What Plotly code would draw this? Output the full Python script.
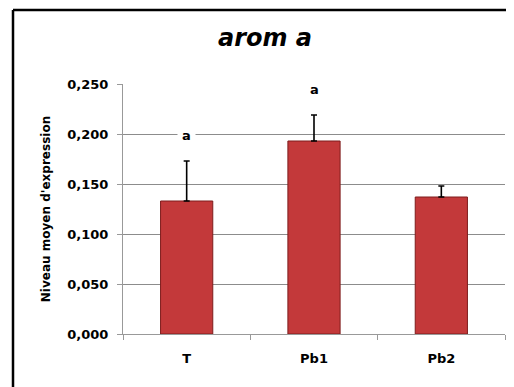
import plotly.graph_objects as go

categories = ["T", "Pb1", "Pb2"]
means = [0.133, 0.193, 0.137]
errors_plus = [0.040, 0.026, 0.011]
letters = ["a", "a", ""]
letter_y = [0.199, 0.245, None]
tick_vals = [0.0, 0.05, 0.10, 0.15, 0.20, 0.25]
tick_text = ["0,000", "0,050", "0,100", "0,150", "0,200", "0,250"]

# page body has an 8px margin; work in figure coordinates
OFF = 8
W, H = 514 - OFF, 387 - OFF
L, R, T, B = 123 - OFF, 9, 84 - OFF, 53

fig = go.Figure()
fig.add_trace(go.Bar(
    x=categories, y=means,
    marker=dict(color="#C3393A", line=dict(color="#7E1D1D", width=1)),
    width=0.41,
    error_y=dict(type="data", symmetric=False, array=errors_plus,
                 arrayminus=[0, 0, 0], color="black", thickness=1.6, width=3),
))

for c, t, yv in zip(categories, letters, letter_y):
    if t:
        fig.add_annotation(x=c, y=yv, text=t, showarrow=False,
                           font=dict(family="DejaVu Sans", size=13, color="black", weight="bold"),
                           bgcolor="white", yanchor="middle", borderpad=4)

pw = W - L - R
ph = H - T - B
bx = 13 - OFF
by = 10 - OFF
fig.add_shape(type="line", xref="paper", yref="paper",
              x0=(bx - L) / pw, x1=(W + 5 - L) / pw,
              y0=(H - B - by) / ph, y1=(H - B - by) / ph,
              line=dict(color="black", width=2.5))
fig.add_shape(type="line", xref="paper", yref="paper",
              x0=(bx - L) / pw, x1=(bx - L) / pw,
              y0=(H - B - by) / ph, y1=-(B + 5) / ph,
              line=dict(color="black", width=2.5))

fig.update_layout(
    width=W, height=H,
    margin=dict(l=L, r=R, t=T, b=B),
    paper_bgcolor="white", plot_bgcolor="white",
    showlegend=False,
    title=dict(text="<b><i>arom a</i></b>", x=(265 - OFF) / W, xanchor="center",
               y=1 - (38 - OFF) / H, yanchor="middle",
               font=dict(family="DejaVu Sans", size=24, color="black")),
    xaxis=dict(showline=True, linecolor="#999999", linewidth=1,
               ticks="outside", tickson="boundaries", ticklen=5, tickcolor="#999999",
               tickfont=dict(family="DejaVu Sans", size=13, color="black", weight="bold"),
               ticklabelstandoff=12, showgrid=False),
    yaxis=dict(range=[0, 0.25], tickvals=tick_vals, ticktext=tick_text,
               showline=True, linecolor="#999999", linewidth=1,
               ticks="outside", ticklen=5, tickcolor="#999999",
               showgrid=True, gridcolor="#8C8C8C", gridwidth=1,
               zeroline=False,
               tickfont=dict(family="DejaVu Sans", size=13, color="black", weight="bold"),
               ticklabelstandoff=6,
               title=dict(text="Niveau moyen d'expression", standoff=14,
                          font=dict(family="DejaVu Sans", size=12, color="black", weight="bold"))),
)

fig.write_html("out.html")
